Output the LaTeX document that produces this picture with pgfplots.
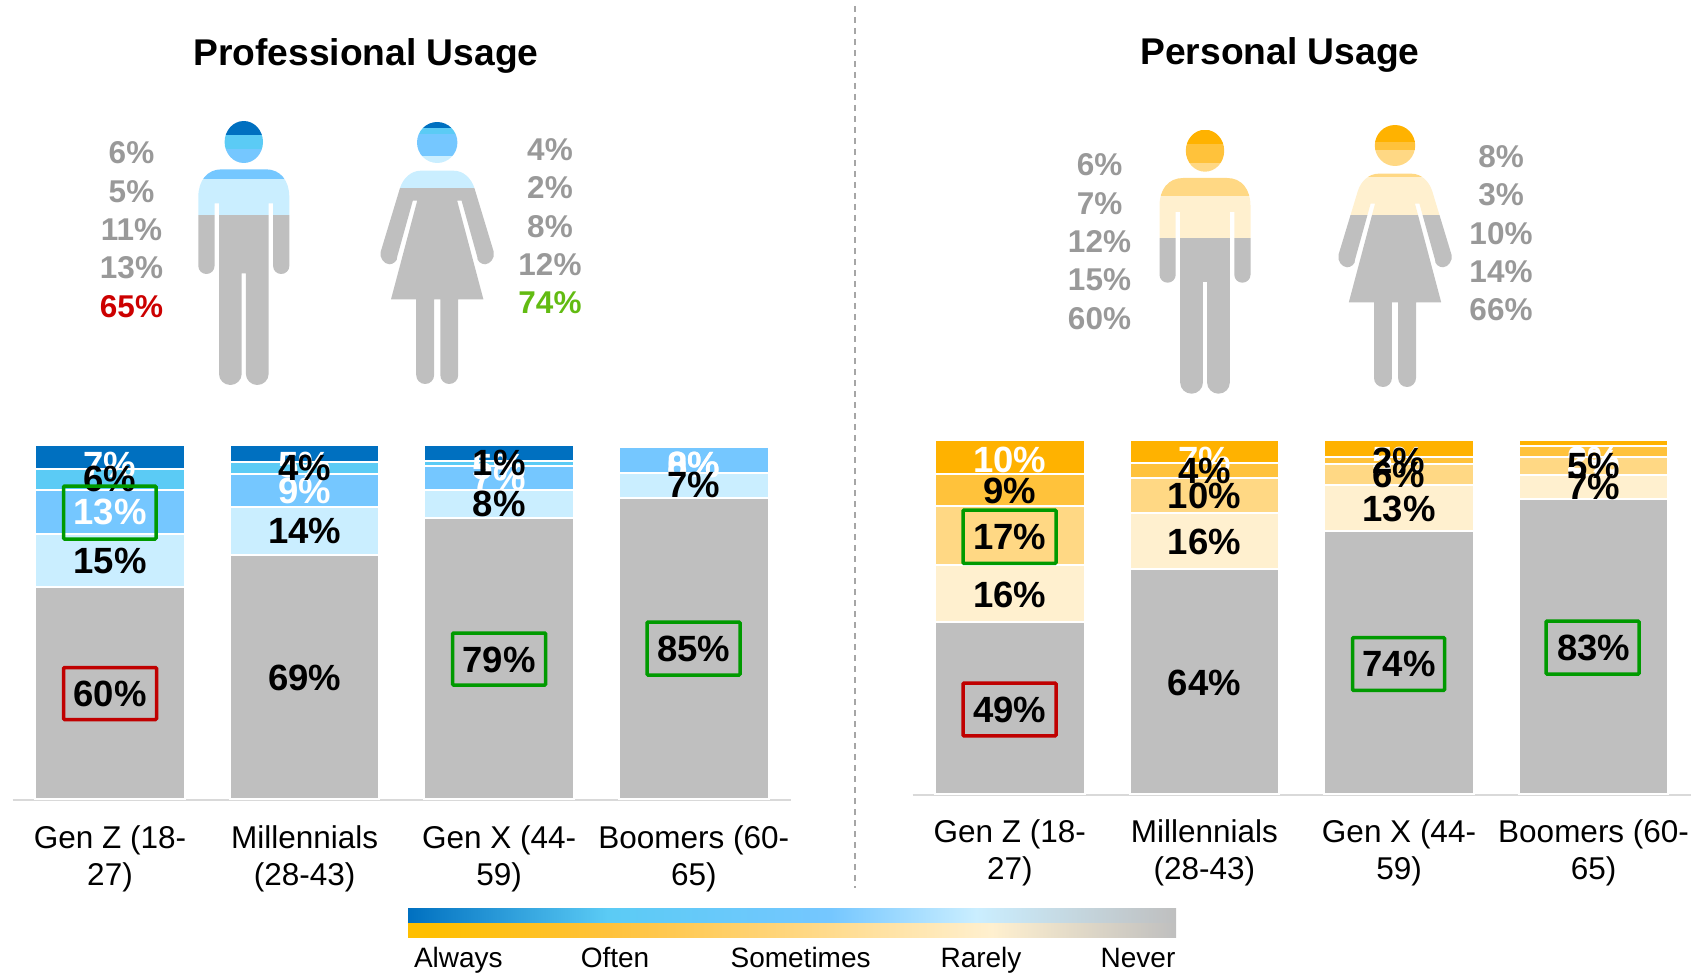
\documentclass[border=0pt]{standalone}
\usepackage{fontspec}
\setmainfont{Liberation Sans}
\usepackage{pgfplots}
\usepackage{pgfplotstable}
\pgfplotsset{compat=1.18}

\definecolor{b1}{HTML}{0070C0}
\definecolor{b2}{HTML}{5BCBF5}
\definecolor{b3}{HTML}{75C7FF}
\definecolor{b4}{HTML}{CAEEFF}
\definecolor{o0}{HTML}{FFBF00}
\definecolor{o1}{HTML}{FFB200}
\definecolor{o2}{HTML}{FFC23B}
\definecolor{o3}{HTML}{FFD884}
\definecolor{o4}{HTML}{FFF0CF}
\definecolor{gr}{HTML}{BFBFBF}
\definecolor{sidegr}{HTML}{999999}
\definecolor{boxgreen}{HTML}{009A00}
\definecolor{boxred}{HTML}{C00000}
\definecolor{lab-red}{HTML}{CC0000}
\definecolor{lab-green}{HTML}{62BB12}

% tikz maps the path onto the 25bp..75bp part of a shading
\pgfdeclarehorizontalshading{bluegrad}{100bp}{color(0bp)=(b1); color(25bp)=(b1); color(38bp)=(b2); color(52.5bp)=(b3); color(62bp)=(b4); color(75bp)=(gr); color(100bp)=(gr)}
\pgfdeclarehorizontalshading{orangegrad}{100bp}{color(0bp)=(o0); color(26.5bp)=(o0); color(38bp)=(o2); color(51bp)=(o3); color(63bp)=(o4); color(75bp)=(gr); color(100bp)=(gr)}

% bar segments, in percent of the bar height
\pgfplotstableread{
x always often sometimes rarely never
0 6.6 6.0 12.6 14.8 60.0
1 4.8 3.4 9.2 13.7 68.9
2 4.4 1.4 6.7 8.1 79.4
3 0.3 0.3 7.3 6.9 85.2
}\proftable
\pgfplotstableread{
x always often sometimes rarely never
0 9.7 8.9 16.8 16.1 48.5
1 6.6 4.1 9.9 15.8 63.6
2 4.8 2.0 6.0 13.0 74.2
3 1.8 3.1 4.9 7.0 83.2
}\perstable

\newcommand{\catfont}{\fontsize{31.5}{37}\selectfont}
\newcommand{\pctfont}{\fontsize{36.5}{36}\selectfont\bfseries}
\newcommand{\sidefont}{\fontsize{31.5}{31}\selectfont\bfseries}

\pgfplotsset{
  panel/.style={
    scale only axis, width=778.4pt, height=355.1pt,
    xmin=-0.5, xmax=3.5, ymin=-0.4, ymax=100,
    axis y line=none, axis x line=bottom,
    x axis line style={draw=black!15, line width=2pt, -},
    xtick={0,1,2,3}, major tick length=0pt,
    xticklabels={{Gen Z (18-\\27)},{Millennials\\(28-43)},{Gen X (44-\\59)},{Boomers (60-\\65)}},
    xticklabel style={align=center, font=\catfont, anchor=north, yshift=-21.5pt},
    ybar stacked, bar width=149.5pt, clip=false,
  },
  seg/.style={fill=#1, draw=white, line width=2pt},
  overlay axis/.style={
    scale only axis, width=778.4pt, height=356.6pt,
    xmin=-0.5, xmax=3.5, ymin=-0.4, ymax=100, hide axis, clip=false,
  },
  pct/.style={
    only marks, mark=none, point meta=explicit symbolic,
    nodes near coords={\pgfplotspointmeta\%},
    every node near coord/.append style={anchor=center, font=\pctfont, text=#1},
  },
  band/.style={fill=#1, draw=none},
}

% silhouettes: x from the figure's centre, y down from its top
\newcommand{\manshape}{(0,21) ellipse [x radius=19.2, y radius=21]
  (-22,48.3) -- (22,48.3) .. controls (37,48.3) and (45.5,60) .. (45.5,76)
  -- (45.5,145) .. controls (45.5,149.5) and (41.9,153) .. (37.4,153)
  .. controls (32.9,153) and (29.3,149.5) .. (29.3,145) -- (29.3,82.3) -- (24.8,82.3)
  -- (24.8,253) .. controls (24.8,259) and (19.8,264) .. (13.4,264)
  .. controls (7.4,264) and (2.1,259) .. (2.1,253) -- (2.1,152.3) -- (-2.1,152.3)
  -- (-2.1,253) .. controls (-2.1,259) and (-7.4,264) .. (-13.4,264)
  .. controls (-19.8,264) and (-24.8,259) .. (-24.8,253) -- (-24.8,82.3) -- (-29.3,82.3)
  -- (-29.3,145) .. controls (-29.3,149.5) and (-32.9,153) .. (-37.4,153)
  .. controls (-41.9,153) and (-45.5,149.5) .. (-45.5,145) -- (-45.5,76)
  .. controls (-45.5,60) and (-37,48.3) .. (-22,48.3) -- cycle}
\newcommand{\womanshape}{(0,20.5) ellipse [x radius=20.2, y radius=20.5]
  (-16.5,48.7) -- (16.5,48.7) .. controls (26,48.7) and (34,56) .. (37.2,66)
  -- (56.5,129.7) .. controls (58,136) and (53,142) .. (48,142.3)
  .. controls (44,142.3) and (39.5,139) .. (40,134.7) -- (24.4,78.7) -- (20,78.7)
  -- (46.2,177.3) -- (21,177.3) -- (21,253) .. controls (21,258) and (17,262) .. (12,262)
  .. controls (7,262) and (3.1,258) .. (3.1,253) -- (3.1,177.3) -- (-3.1,177.3)
  -- (-3.1,253) .. controls (-3.1,258) and (-7,262) .. (-12,262)
  .. controls (-17,262) and (-21,258) .. (-21,253) -- (-21,177.3) -- (-46.2,177.3)
  -- (-20,78.7) -- (-24.4,78.7) -- (-40,134.7)
  .. controls (-39.5,139) and (-44,142.3) .. (-48,142.3)
  .. controls (-53,142) and (-58,136) .. (-56.5,129.7) -- (-37.2,66)
  .. controls (-34,56) and (-26,48.7) .. (-16.5,48.7) -- cycle}

% #1 shape, #2 centre x, #3 top y, #4 height, #5 the stacked bands
\newcommand{\person}[5]{%
  \begin{scope}
    \path[clip, shift={(#2pt,-#3pt)}, x=1pt, y=-1pt] #1;
    \begin{axis}[at={({(#2-60)*1pt},{-(#3+#4)*1pt})}, anchor=south west,
      scale only axis, width=120pt, height=#4pt, hide axis, clip=false,
      xmin=-1, xmax=1, ymin=0, ymax=100, ybar stacked, bar width=120pt, bar shift=0pt]
      #5
    \end{axis}
  \end{scope}}

\begin{document}
\begin{tikzpicture}
\path[use as bounding box] (0,0) rectangle (1694pt,-976pt);

% bars, professional
\begin{axis}[panel, at={(12.7pt,-800.4pt)}, anchor=south west]
  \addplot[seg=gr] table[x=x,y=never]{\proftable};
  \addplot[seg=b4] table[x=x,y=rarely]{\proftable};
  \addplot[seg=b3] table[x=x,y=sometimes]{\proftable};
  \addplot[seg=b2] table[x=x,y=often]{\proftable};
  \addplot[seg=b1] table[x=x,y=always]{\proftable};
\end{axis}
\begin{axis}[overlay axis, at={(12.7pt,-801.9pt)}, anchor=south west]
  \addplot[pct=white] coordinates {(0,94.5) [7] (1,94.5) [5] (2,94) [5] (3,94.5) [0]};
  \addplot[pct=white] coordinates {(0,81.1) [13] (1,87.2) [9] (2,90.9) [7] (3,94.5) [8]};
  \addplot[pct=black] coordinates {(0,67.4) [15] (1,75.8) [14] (2,83.5) [8] (3,88.7) [7]};
  \addplot[pct=black] coordinates {(0,90.4) [6] (1,93.5) [4] (2,94.9) [1]};
  \addplot[pct=black] coordinates {(0,30) [60] (1,34.5) [69] (2,39.7) [79] (3,42.6) [85]};
\end{axis}

% bars, personal
\begin{axis}[panel, at={(912.5pt,-795.1pt)}, anchor=south west]
  \addplot[seg=gr] table[x=x,y=never]{\perstable};
  \addplot[seg=o4] table[x=x,y=rarely]{\perstable};
  \addplot[seg=o3] table[x=x,y=sometimes]{\perstable};
  \addplot[seg=o2] table[x=x,y=often]{\perstable};
  \addplot[seg=o1] table[x=x,y=always]{\perstable};
\end{axis}
\begin{axis}[overlay axis, at={(912.5pt,-797.4pt)}, anchor=south west]
  \addplot[pct=white] coordinates {(0,94.6) [10] (1,94.6) [7] (2,94.6) [5] (3,94.6) [2]};
  \addplot[pct=white] coordinates {(3,93.8) [3]};
  \addplot[pct=black] coordinates {(0,56.6) [16] (1,71.6) [16] (2,80.8) [13] (3,86.9) [7]};
  \addplot[pct=black] coordinates {(0,73.0) [17] (1,84.4) [10] (2,90.3) [6] (3,92.8) [5]};
  \addplot[pct=black] coordinates {(0,85.9) [9] (1,91.4) [4] (2,94.3) [2]};
  \addplot[pct=black] coordinates {(0,24.3) [49] (1,31.8) [64] (2,37.2) [74] (3,41.7) [83]};
\end{axis}

% people, bands stacked from never up to always
\person{\manshape}{243.8}{121}{264}{%
  \addplot[band=gr] coordinates {(0,64.4)};
  \addplot[band=b4] coordinates {(0,13.5)};
  \addplot[band=b3] coordinates {(0,11.4)};
  \addplot[band=b2] coordinates {(0,5.4)};
  \addplot[band=b1] coordinates {(0,5.3)};}
\person{\womanshape}{437.2}{122}{262}{%
  \addplot[band=gr] coordinates {(0,74.8)};
  \addplot[band=b4] coordinates {(0,12.2)};
  \addplot[band=b3] coordinates {(0,8.4)};
  \addplot[band=b2] coordinates {(0,2.2)};
  \addplot[band=b1] coordinates {(0,2.4)};}
\person{\manshape}{1205}{129.7}{264}{%
  \addplot[band=gr] coordinates {(0,59)};
  \addplot[band=o4] coordinates {(0,15.9)};
  \addplot[band=o3] coordinates {(0,12.5)};
  \addplot[band=o2] coordinates {(0,7.3)};
  \addplot[band=o1] coordinates {(0,5.3)};}
\person{\womanshape}{1395}{125}{262}{%
  \addplot[band=gr] coordinates {(0,65.6)};
  \addplot[band=o4] coordinates {(0,14.6)};
  \addplot[band=o3] coordinates {(0,10.2)};
  \addplot[band=o2] coordinates {(0,3.2)};
  \addplot[band=o1] coordinates {(0,6.4)};}

\begin{scope}[x=1pt, y=-1pt]
  % titles and divider
  \node[anchor=base, font=\fontsize{37.2}{37}\selectfont\bfseries] at (366,66) {Professional Usage};
  \node[anchor=base, font=\fontsize{37.2}{37}\selectfont\bfseries] at (1280,65) {Personal Usage};
  \draw[black!35, line width=1.5pt, dash pattern=on 6pt off 5pt] (855,6) -- (855,888);

  % figures beside the people
  \foreach \t/\y in {6/153,5/191.7,11/230,13/268}
    \node[text=sidegr, font=\sidefont] at (131.5,\y) {\t\%};
  \node[text=lab-red, font=\sidefont] at (131.5,307) {65\%};
  \foreach \t/\y in {4/150,2/188,8/226.7,12/265}
    \node[text=sidegr, font=\sidefont] at (550,\y) {\t\%};
  \node[text=lab-green, font=\sidefont] at (550,303) {74\%};
  \foreach \t/\y in {6/165,7/203.3,12/241.7,15/280,60/318.3}
    \node[text=sidegr, font=\sidefont] at (1099.5,\y) {\t\%};
  \foreach \t/\y in {8/156.7,3/195,10/233.3,14/271.7,66/310}
    \node[text=sidegr, font=\sidefont] at (1501,\y) {\t\%};

  % highlight boxes
  \begin{scope}[line width=3.5pt, rounded corners=1pt]
    \draw[boxgreen] (63.5,486) rectangle (156,539);
    \draw[boxred] (63.5,667.5) rectangle (156.5,719.5);
    \draw[boxgreen] (452.7,633) rectangle (545.6,685);
    \draw[boxgreen] (647,622) rectangle (740,675);
    \draw[boxgreen] (963,510) rectangle (1056,563.3);
    \draw[boxred] (963,683) rectangle (1056,735.8);
    \draw[boxgreen] (1352.6,637.5) rectangle (1444.5,690.4);
    \draw[boxgreen] (1546,621) rectangle (1639,674);
  \end{scope}

  % scale key
  \shade[shading=bluegrad] (408,908) rectangle (1176,922);
  \shade[shading=orangegrad] (408,923) rectangle (1176,937);
  \foreach \t/\x in {Always/458.4,Often/615,Sometimes/800.6,Rarely/981,Never/1138}
    \node[anchor=base, font=\fontsize{28}{28}\selectfont] at (\x,967) {\t};
\end{scope}
\end{tikzpicture}
\end{document}
